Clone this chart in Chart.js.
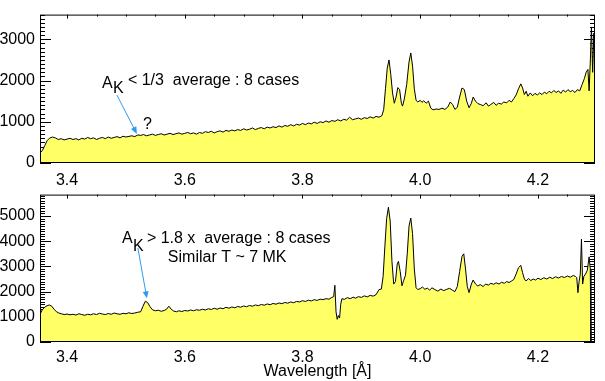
<!DOCTYPE html>
<html>
<head>
<meta charset="utf-8">
<script src="https://cdn.jsdelivr.net/npm/chart.js@4.4.1/dist/chart.umd.min.js"></script>
<style>
  html, body { margin: 0; padding: 0; background: #fff; }
  #wrap { position: relative; width: 605px; height: 381px; }
  canvas { position: absolute; left: 0; }
  #chartLow { top: 0; }
  #chartHigh { top: 180px; }
</style>
</head>
<body>
<div id="wrap">
  <canvas id="chartLow" width="605" height="190"></canvas>
  <canvas id="chartHigh" width="605" height="201"></canvas>
</div>
<script>
// tick labels
const xTicks = [3.4, 3.6, 3.8, 4.0, 4.2];
const yTicksLow = [0, 1000, 2000, 3000];
const yTicksHigh = [0, 1000, 2000, 3000, 4000, 5000];

// top panel: A_K < 1/3 average
const wavelengthLow = [
  3.354, 3.358, 3.362, 3.366, 3.370, 3.375, 3.380, 3.385, 3.390, 3.395,
  3.400, 3.405, 3.410, 3.415, 3.420, 3.425, 3.430, 3.435, 3.440, 3.445,
  3.450, 3.455, 3.460, 3.465, 3.470, 3.475, 3.480, 3.485, 3.490, 3.495,
  3.500, 3.510, 3.515, 3.520, 3.525, 3.530, 3.535, 3.540, 3.545, 3.550,
  3.555, 3.560, 3.565, 3.570, 3.575, 3.580, 3.585, 3.590, 3.595, 3.600,
  3.605, 3.610, 3.615, 3.620, 3.625, 3.630, 3.635, 3.640, 3.645, 3.650,
  3.655, 3.660, 3.665, 3.670, 3.675, 3.680, 3.685, 3.690, 3.695, 3.700,
  3.705, 3.710, 3.715, 3.720, 3.725, 3.730, 3.735, 3.740, 3.745, 3.750,
  3.755, 3.760, 3.765, 3.770, 3.775, 3.780, 3.785, 3.790, 3.795, 3.800,
  3.805, 3.810, 3.815, 3.820, 3.825, 3.830, 3.835, 3.840, 3.845, 3.850,
  3.855, 3.860, 3.865, 3.870, 3.875, 3.880, 3.885, 3.890, 3.895, 3.900,
  3.905, 3.910, 3.915, 3.920, 3.925, 3.930, 3.935, 3.938, 3.941, 3.944,
  3.947, 3.950, 3.953, 3.956, 3.959, 3.962, 3.965, 3.968, 3.970, 3.973,
  3.977, 3.981, 3.984, 3.987, 3.990, 3.993, 3.996, 4.000, 4.003, 4.006,
  4.010, 4.014, 4.018, 4.022, 4.027, 4.032, 4.037, 4.042, 4.047, 4.051,
  4.055, 4.059, 4.063, 4.067, 4.071, 4.075, 4.079, 4.083, 4.087, 4.090,
  4.094, 4.098, 4.102, 4.107, 4.112, 4.116, 4.120, 4.125, 4.129, 4.133,
  4.138, 4.142, 4.147, 4.151, 4.155, 4.159, 4.163, 4.167, 4.171, 4.174,
  4.177, 4.180, 4.183, 4.187, 4.191, 4.195, 4.199, 4.203, 4.207, 4.211,
  4.215, 4.219, 4.223, 4.227, 4.231, 4.235, 4.239, 4.243, 4.247, 4.251,
  4.255, 4.259, 4.263, 4.267, 4.271, 4.275, 4.279, 4.282, 4.285, 4.287,
  4.289, 4.291, 4.293, 4.295, 4.297
];
const countsLow = [
  250, 300, 420, 540, 600, 630, 610, 570, 590, 560,
  580, 600, 570, 590, 560, 600, 580, 620, 590, 610,
  570, 600, 620, 590, 630, 600, 620, 640, 610, 650,
  630, 660, 640, 680, 670, 690, 660, 680, 700, 670,
  690, 710, 680, 700, 720, 690, 710, 730, 700, 720,
  740, 710, 730, 700, 740, 720, 760, 740, 770, 730,
  760, 780, 750, 790, 770, 800, 780, 810, 790, 830,
  800, 820, 850, 810, 840, 860, 830, 870, 850, 880,
  860, 900, 870, 910, 890, 930, 900, 940, 920, 960,
  930, 970, 950, 990, 960, 1000, 980, 1020, 990, 1030,
  1010, 1050, 1020, 1060, 1040, 1110, 1050, 1070, 1090, 1060,
  1100, 1080, 1120, 1090, 1130, 1110, 1150, 1300, 1800, 2300,
  2500, 2150, 1700, 1450, 1600, 1830, 1780, 1450, 1380, 1550,
  1900, 2450, 2670, 2350, 1800, 1520, 1480, 1520, 1470, 1510,
  1450, 1500, 1330, 1290, 1310, 1300, 1330, 1300, 1360, 1480,
  1420, 1300, 1350, 1600, 1820, 1780, 1500, 1340, 1450, 1600,
  1500, 1440, 1420, 1390, 1460, 1380, 1420, 1470, 1400, 1450,
  1430, 1480, 1460, 1520, 1480, 1560, 1650, 1800, 1920, 1820,
  1660, 1740, 1620, 1700, 1630, 1690, 1650, 1700, 1660, 1720,
  1680, 1740, 1700, 1760, 1710, 1750, 1690, 1770, 1720, 1780,
  1730, 1760, 1710, 1780, 1750, 1900, 2050, 2200, 2270, 1750,
  2450, 3300, 2200, 3150, 2000
];

// bottom panel: A_K > 1.8 x average
const wavelengthHigh = [
  3.354, 3.358, 3.362, 3.366, 3.370, 3.374, 3.378, 3.382, 3.386, 3.390,
  3.395, 3.400, 3.405, 3.410, 3.415, 3.420, 3.425, 3.430, 3.435, 3.440,
  3.445, 3.450, 3.455, 3.460, 3.465, 3.470, 3.475, 3.480, 3.485, 3.490,
  3.495, 3.500, 3.505, 3.510, 3.515, 3.520, 3.525, 3.529, 3.533, 3.537,
  3.541, 3.545, 3.550, 3.555, 3.560, 3.565, 3.569, 3.573, 3.577, 3.581,
  3.586, 3.590, 3.595, 3.600, 3.605, 3.610, 3.615, 3.620, 3.625, 3.630,
  3.635, 3.640, 3.645, 3.650, 3.655, 3.660, 3.665, 3.670, 3.675, 3.680,
  3.685, 3.690, 3.695, 3.700, 3.705, 3.710, 3.715, 3.720, 3.725, 3.730,
  3.735, 3.740, 3.745, 3.750, 3.755, 3.760, 3.765, 3.770, 3.775, 3.780,
  3.785, 3.790, 3.795, 3.800, 3.805, 3.810, 3.815, 3.820, 3.825, 3.830,
  3.835, 3.840, 3.845, 3.850, 3.853, 3.855, 3.857, 3.859, 3.861, 3.863,
  3.865, 3.867, 3.871, 3.876, 3.881, 3.886, 3.890, 3.895, 3.900, 3.905,
  3.910, 3.915, 3.920, 3.925, 3.930, 3.934, 3.937, 3.940, 3.943, 3.946,
  3.949, 3.952, 3.955, 3.958, 3.961, 3.963, 3.966, 3.969, 3.972, 3.975,
  3.978, 3.981, 3.984, 3.987, 3.990, 3.993, 3.996, 4.000, 4.004, 4.008,
  4.012, 4.016, 4.020, 4.025, 4.030, 4.035, 4.040, 4.045, 4.050, 4.055,
  4.059, 4.063, 4.067, 4.071, 4.074, 4.077, 4.080, 4.083, 4.087, 4.090,
  4.094, 4.098, 4.102, 4.107, 4.111, 4.116, 4.120, 4.125, 4.129, 4.134,
  4.138, 4.143, 4.147, 4.151, 4.155, 4.159, 4.163, 4.167, 4.171, 4.174,
  4.177, 4.180, 4.184, 4.188, 4.192, 4.196, 4.200, 4.205, 4.210, 4.215,
  4.220, 4.225, 4.230, 4.235, 4.240, 4.245, 4.250, 4.255, 4.260, 4.264,
  4.266, 4.268, 4.270, 4.272, 4.274, 4.276, 4.278, 4.281, 4.284, 4.287,
  4.289, 4.290
];
const countsHigh = [
  1100, 1280, 1380, 1440, 1470, 1420, 1300, 1200, 1150, 1120,
  1090, 1110, 1080, 1100, 1070, 1120, 1090, 1060, 1100, 1080,
  1120, 1090, 1140, 1110, 1090, 1130, 1100, 1150, 1120, 1100,
  1140, 1120, 1160, 1130, 1150, 1180, 1200, 1420, 1620, 1560,
  1400, 1280, 1240, 1260, 1220, 1250, 1300, 1420, 1300, 1230,
  1200, 1240, 1210, 1250, 1230, 1270, 1240, 1280, 1260, 1300,
  1270, 1320, 1290, 1340, 1300, 1350, 1320, 1380, 1340, 1390,
  1360, 1410, 1380, 1430, 1400, 1450, 1420, 1470, 1440, 1490,
  1460, 1510, 1480, 1530, 1500, 1550, 1520, 1570, 1540, 1590,
  1560, 1610, 1590, 1640, 1610, 1660, 1630, 1680, 1650, 1700,
  1680, 1720, 1700, 1770, 1800, 2250, 1200, 900, 1050, 950,
  1500, 1720, 1690, 1760, 1720, 1780, 1740, 1800, 1770, 1830,
  1790, 1850, 1820, 1880, 2080, 2100, 2600, 3800, 4900, 5350,
  4800, 3200, 2300, 2400, 3100, 3200, 2800, 2230, 2450, 2650,
  3500, 4600, 4920, 4300, 2900, 2150, 2080, 2120, 2180, 2090,
  2140, 2060, 2150, 2080, 2020, 2100, 2040, 2090, 2130, 2050,
  2000, 2200, 2800, 3400, 3500, 2900, 2200, 1960, 2300, 2460,
  2300, 2220, 2280, 2200, 2300, 2260, 2330, 2290, 2350, 2300,
  2370, 2330, 2400, 2360, 2420, 2480, 2700, 2950, 3040, 2750,
  2500, 2420, 2520, 2440, 2500, 2460, 2530, 2480, 2550, 2500,
  2570, 2520, 2590, 2540, 2600, 2560, 2620, 2570, 2640, 2600,
  2550, 1960, 2400, 2700, 4080, 2300, 2600, 2700, 2850, 3380,
  2900, 0
];

const FONT = "'Liberation Sans', Arial, Helvetica, sans-serif";
const FILL = '#ffff66';
const ARROW = '#2b9cf0';

// IDL-like frame: inward ticks on all four sides, drawn under the fill
const idlAxes = {
  id: 'idlAxes',
  beforeDatasetsDraw(chart) {
    const { ctx, chartArea: a, scales: { x, y } } = chart;
    ctx.save();
    ctx.strokeStyle = '#000';
    ctx.lineWidth = 1;
    ctx.beginPath();
    for (let k = Math.ceil(x.min * 20); k <= Math.floor(x.max * 20); k++) {
      const v = k / 20;
      const px = Math.round(x.getPixelForValue(v)) + 0.5;
      const len = xTicks.some(t => Math.abs(t - v) < 1e-6) ? 4 : 2;
      ctx.moveTo(px, a.top); ctx.lineTo(px, a.top + len);
      ctx.moveTo(px, a.bottom); ctx.lineTo(px, a.bottom - len);
    }
    for (let v = 0; v <= y.max; v += 100) {
      const py = Math.round(y.getPixelForValue(v)) + 0.5;
      const len = v % 1000 === 0 ? 11 : 5;
      ctx.moveTo(a.left, py); ctx.lineTo(a.left + len, py);
      ctx.moveTo(a.right, py); ctx.lineTo(a.right - len, py);
    }
    ctx.stroke();
    ctx.restore();
  },
  afterDatasetsDraw(chart) {
    const { ctx, chartArea: a } = chart;
    ctx.save();
    ctx.strokeStyle = '#000';
    ctx.lineWidth = 1;
    ctx.strokeRect(a.left + 0.5, a.top + 0.5, a.right - a.left - 1, a.bottom - a.top - 1);
    ctx.restore();
  },
  afterDraw(chart, args, opts) {
    const { ctx, scales: { x, y } } = chart;
    ctx.save();
    // arrow
    const x0 = x.getPixelForValue(opts.arrow[0]), y0 = y.getPixelForValue(opts.arrow[1]);
    const x1 = x.getPixelForValue(opts.arrow[2]), y1 = y.getPixelForValue(opts.arrow[3]);
    const ang = Math.atan2(y1 - y0, x1 - x0);
    ctx.strokeStyle = ARROW;
    ctx.fillStyle = ARROW;
    ctx.lineWidth = 1;
    ctx.beginPath();
    ctx.moveTo(x0, y0);
    ctx.lineTo(x1 - 4 * Math.cos(ang), y1 - 4 * Math.sin(ang));
    ctx.stroke();
    ctx.beginPath();
    ctx.moveTo(x1, y1);
    ctx.lineTo(x1 - 7 * Math.cos(ang) + 3 * Math.sin(ang), y1 - 7 * Math.sin(ang) - 3 * Math.cos(ang));
    ctx.lineTo(x1 - 7 * Math.cos(ang) - 3 * Math.sin(ang), y1 - 7 * Math.sin(ang) + 3 * Math.cos(ang));
    ctx.closePath();
    ctx.fill();
    // texts
    ctx.fillStyle = '#000';
    ctx.textAlign = 'left';
    ctx.textBaseline = 'alphabetic';
    opts.notes.forEach(n => {
      ctx.font = (n.size || 16) + 'px ' + FONT;
      ctx.fillText(n.text, x.getPixelForValue(n.x), y.getPixelForValue(n.y));
    });
    ctx.restore();
  }
};

function buildChart(id, wl, counts, yMax, yTicks, axisHeight, labelPad, title, notes, arrow) {
  return new Chart(document.getElementById(id), {
    type: 'line',
    data: {
      datasets: [{
        data: wl.map((w, i) => ({ x: w, y: counts[i] })),
        borderColor: '#000',
        borderWidth: 1,
        backgroundColor: FILL,
        fill: 'origin',
        pointRadius: 0,
        tension: 0
      }]
    },
    options: {
      responsive: false,
      animation: false,
      layout: { padding: { top: 10, right: 10, left: 0, bottom: 0 } },
      plugins: {
        legend: { display: false },
        tooltip: { enabled: false },
        idlAxes: { notes: notes, arrow: arrow }
      },
      scales: {
        x: {
          type: 'linear',
          min: 3.354,
          max: 4.297,
          grid: { display: false, drawTicks: false },
          border: { display: false },
          afterBuildTicks: s => { s.ticks = xTicks.map(v => ({ value: v })); },
          afterFit: s => { s.height = axisHeight; },
          ticks: {
            color: '#000',
            padding: labelPad,
            maxRotation: 0,
            font: { family: FONT, size: 16 },
            callback: v => Number(v).toFixed(1)
          },
          title: {
            display: !!title,
            text: title || '',
            color: '#000',
            padding: { top: 0, bottom: 0 },
            font: { family: FONT, size: 16 }
          }
        },
        y: {
          min: 0,
          max: yMax,
          grid: { display: false, drawTicks: false },
          border: { display: false },
          afterBuildTicks: s => { s.ticks = yTicks.map(v => ({ value: v })); },
          afterFit: s => { s.width = 40; },
          ticks: {
            color: '#000',
            padding: 5,
            font: { family: FONT, size: 16 },
            callback: v => String(v)
          }
        }
      }
    },
    plugins: [idlAxes]
  });
}

buildChart('chartLow', wavelengthLow, countsLow, 3600, yTicksLow, 27, 8, null,
  [
    { x: 3.4593, y: 1812, text: 'A' },
    { x: 3.4780, y: 1694, text: 'K' },
    { x: 3.5034, y: 1882, text: '< 1/3  average : 8 cases' },
    { x: 3.5288, y: 824, text: '?' }
  ],
  [3.4847, 1647, 3.5186, 706]);

buildChart('chartHigh', wavelengthHigh, countsHigh, 5850, yTicksHigh, 39, 6, 'Wavelength [Å]',
  [
    { x: 3.4932, y: 3926, text: 'A' },
    { x: 3.5119, y: 3618, text: 'K' },
    { x: 3.5356, y: 3926, text: '> 1.8 x  average : 8 cases' },
    { x: 3.5712, y: 3156, text: 'Similar T ~ 7 MK' }
  ],
  [3.5203, 3734, 3.5356, 1732]);
</script>
</body>
</html>
